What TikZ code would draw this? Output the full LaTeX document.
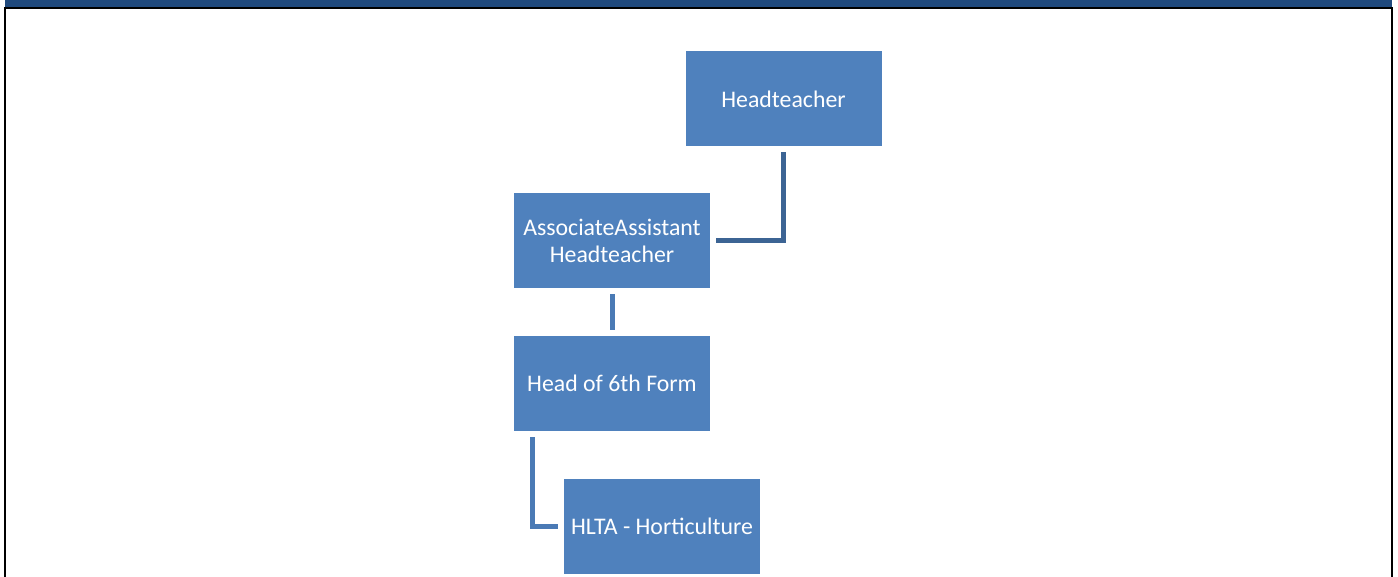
\documentclass[tikz,border=0pt]{standalone}
\usepackage{fontspec}
\setmainfont{Carlito}
\usetikzlibrary{positioning}
\usetikzlibrary{calc}
\definecolor{boxblue}{HTML}{4F81BD}
\definecolor{linkdark}{HTML}{3C6494}
\definecolor{linkblue}{HTML}{4A7AB5}
\definecolor{barblue}{HTML}{1F497D}

\begin{document}
\begin{tikzpicture}[x=1pt,y=-1pt,
    post/.style={fill=boxblue, text=white, minimum width=196pt, minimum height=95pt,
      inner sep=0pt, outer sep=6pt, align=center, font=\fontsize{23.8}{27}\selectfont},
    link/.style={line width=5pt, draw=linkblue}]
		% Fix the page size
		\useasboundingbox (0,0) rectangle (1398,577);

		% Draw the frame
		\fill[barblue] (5,0) rectangle (1392,8);
		\draw[line width=2.2pt] (5,577) -- (5,8) -- (1392,8) -- (1392,577);

		% Define the posts
		\node[post] (hd) at (783.5,99) {Headteacher};
		\node[post] (aah) at (612,241) {AssociateAssistant\\Headteacher};
		\node[post] (hsf) at (612,383.5) {Head of 6th Form};
		\node[post] (hlta) at (662,526.5) {HLTA - Horticulture};
		\coordinate (hsfdrop) at ($(hsf.south west)+(24,0)$);

		% Draw the lines
		\draw[link, draw=linkdark] (hd.south) |- (aah.east);
		\draw[link] (aah.south) -- (hsf.north);
		\draw[link] (hsfdrop) |- (hlta.west);
	\end{tikzpicture}
\end{document}
